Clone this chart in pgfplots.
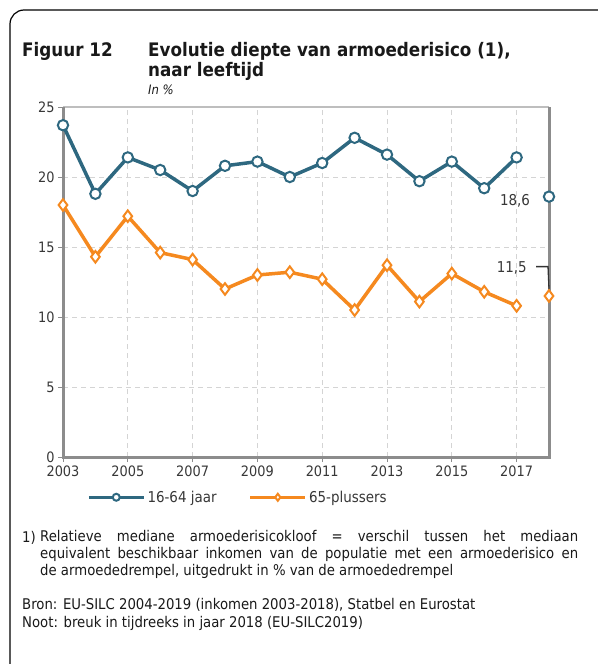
\documentclass[border=0pt]{standalone}
\usepackage{pgfplots}
\pgfplotsset{compat=1.18}
\usepackage{fontspec}
\setmainfont{DejaVu Sans Condensed}
\definecolor{blu}{RGB}{46,104,128}
\definecolor{ora}{RGB}{245,137,31}
\definecolor{axg}{RGB}{140,140,140}
\definecolor{axt}{RGB}{190,190,190}
\definecolor{grd}{RGB}{212,212,212}
\definecolor{txt}{RGB}{55,55,55}
\begin{document}
\begin{tikzpicture}[x=1bp,y=1bp]
\clip (0,0) rectangle (598,-664);
\path (0,0) rectangle (598,-664);
\draw[line width=1.2bp, rounded corners=14bp] (10,-700) -- (10,-10) -- (610,-10);
\node[anchor=base west, font=\fontsize{18.7}{22}\selectfont\bfseries, text=black!90, inner sep=0] at (22,-57) {Figuur 12};
\node[anchor=base west, font=\fontsize{18.7}{22}\selectfont\bfseries, text=black!90, inner sep=0] at (148,-57) {Evolutie diepte van armoederisico (1),};
\node[anchor=base west, font=\fontsize{18.7}{22}\selectfont\bfseries, text=black!90, inner sep=0] at (148,-77) {naar leeftijd};
\node[anchor=base west, font=\fontsize{13}{15}\selectfont\itshape, text=black!90, inner sep=0] at (148,-95) {In \%};
\begin{axis}[at={(63bp,-457bp)}, anchor=south west, scale only axis,
  width=486bp, height=350bp,
  xmin=2003, xmax=2018, ymin=0, ymax=25,
  xtick={2003,2005,...,2017}, ytick={0,5,...,25},
  xticklabel style={/pgf/number format/1000 sep={}},
  /pgf/number format/assume math mode=true,
  ticklabel style={font=\fontsize{14.4}{16}\selectfont, text=txt},
  xtick pos=bottom, ytick pos=left, tick align=outside,
  major tick length=5bp,
  tick style={axg, line width=1bp},
  axis line style={draw=none},
  grid=major, major grid style={grd, dash pattern=on 5bp off 4bp, line width=0.8bp},
  legend style={draw=none, fill=none, inner sep=0pt, at={(0.049,-0.115)}, anchor=west,
    font=\fontsize{15}{17}\selectfont, text=txt, legend columns=2,
    /tikz/every even column/.append style={column sep=30bp}},
  legend image code/.code={\draw[#1,mark=none] (0bp,0bp)--(55bp,0bp); \draw[#1,mark size=3.5bp] plot coordinates {(27.5bp,0bp)};},
  clip=false]
\draw[axt, line width=2bp] (axis cs:2003,25) -- (axis cs:2018,25);
\draw[axg, line width=3bp] (axis cs:2003,25) -- (axis cs:2003,0) -- (axis cs:2018,0) -- (axis cs:2018,25);
\addplot[blu, line width=3.5bp, mark=*, mark size=5.2bp, mark options={fill=white, draw=blu, line width=2bp}] coordinates {
(2003,23.7) (2004,18.8) (2005,21.4) (2006,20.5) (2007,19.0) (2008,20.8) (2009,21.1) (2010,20.0)
(2011,21.0) (2012,22.8) (2013,21.6) (2014,19.7) (2015,21.1) (2016,19.2) (2017,21.4)};
\addlegendentry{16-64 jaar}
\addplot[ora, line width=3.5bp, mark=diamond*, mark size=5.8bp, mark options={fill=white, draw=ora, line width=2bp}] coordinates {
(2003,18.0) (2004,14.3) (2005,17.2) (2006,14.6) (2007,14.1) (2008,12.0) (2009,13.0) (2010,13.2)
(2011,12.7) (2012,10.5) (2013,13.7) (2014,11.1) (2015,13.1) (2016,11.8) (2017,10.8)};
\addlegendentry{65-plussers}
\addplot[blu, only marks, mark=*, mark size=5.2bp, mark options={fill=white, draw=blu, line width=2bp}, forget plot] coordinates {(2018,18.6)};
\addplot[ora, only marks, mark=diamond*, mark size=5.8bp, mark options={fill=white, draw=ora, line width=2bp}, forget plot] coordinates {(2018,11.5)};
\node[text=txt, font=\fontsize{15}{17}\selectfont, inner sep=0] at (axis cs:2016.95,18.3) {18,6};
\node[text=txt, font=\fontsize{15}{17}\selectfont, inner sep=0] at (axis cs:2016.85,13.5) {11,5};
\draw[black!80, line width=1.3bp] (axis cs:2017.6,13.6) -- (axis cs:2017.97,13.6) -- (axis cs:2018,12.0);
\end{axis}
\node[anchor=base west, inner sep=0, font=\fontsize{14.8}{17}\selectfont, text=black!90] at (22,-542) {1)};
\node[anchor=north west, inner sep=0, text width=538bp, align=justify, font=\fontsize{14.8}{17}\selectfont, text=black!90] at (40,-530.5) {Relatieve mediane armoederisicokloof = verschil tussen het mediaan\linebreak equivalent beschikbaar inkomen van de populatie met een armoederisico en\linebreak de armoededrempel, uitgedrukt in \% van de armoededrempel};
\node[anchor=base west, inner sep=0, font=\fontsize{14.8}{17}\selectfont, text=black!90] at (22,-609) {Bron: EU-SILC 2004-2019 (inkomen 2003-2018), Statbel en Eurostat};
\node[anchor=base west, inner sep=0, font=\fontsize{14.8}{17}\selectfont, text=black!90] at (22,-627) {Noot: breuk in tijdreeks in jaar 2018 (EU-SILC2019)};
\end{tikzpicture}
\end{document}
